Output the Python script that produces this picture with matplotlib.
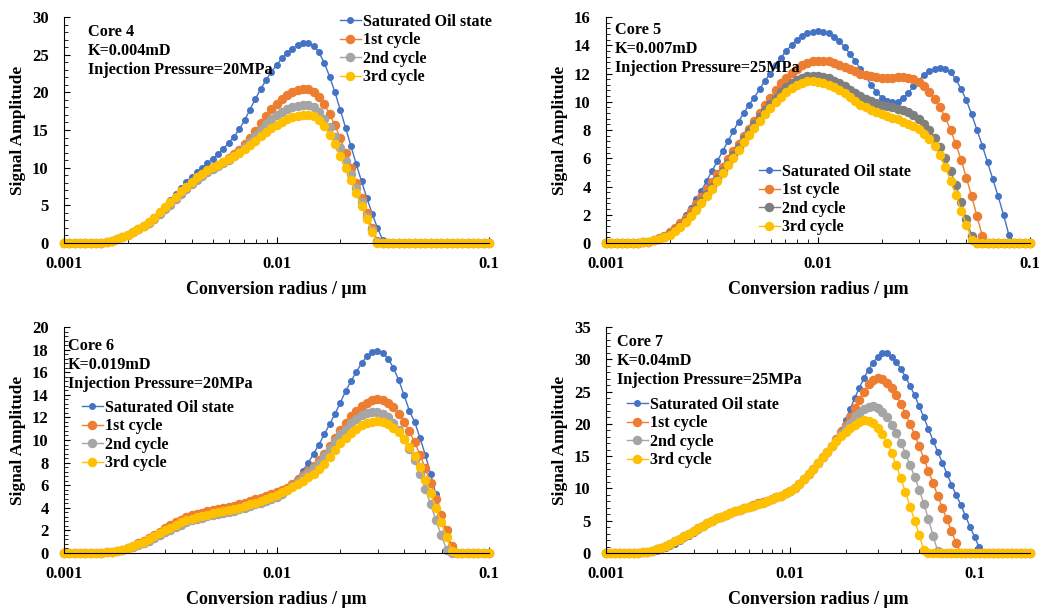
import numpy as np
import matplotlib
matplotlib.use('Agg')
import matplotlib.pyplot as plt
from matplotlib.ticker import MultipleLocator, LogLocator, NullFormatter

plt.rcParams.update({'font.family': 'Liberation Serif',
                     'font.weight': 'bold',
                     'font.size': 12,
                     'axes.labelweight': 'bold',
                     'axes.linewidth': 0.8})

W, H = 1041, 609

# conversion radius grid (um), 40 points per decade from 0.001
radius = np.logspace(-3, -1, 81)
radius7 = np.logspace(-3, -3 + 92 / 40.0, 93)

labels = ['Saturated Oil state', '1st cycle', '2nd cycle', '3rd cycle']

# ---- Core 4 ----
core4_sat = [0, 0, 0, 0, 0, 0, 0, 0.05, 0.15, 0.3,
             0.5, 0.8, 1.1, 1.5, 1.95, 2.4, 2.9, 3.5, 4.2, 4.95,
             5.7, 6.5, 7.3, 8.1, 8.8, 9.4, 10.0, 10.6, 11.2, 11.8,
             12.5, 13.3, 14.1, 15.1, 16.3, 17.7, 19.1, 20.4, 21.6, 22.7,
             23.6, 24.5, 25.2, 25.8, 26.3, 26.6, 26.6, 26.2, 25.3, 23.9,
             22.1, 20.0, 17.7, 15.3, 12.9, 10.5, 8.2, 6.0, 3.9, 2.0,
             0.4, 0, 0, 0, 0, 0, 0, 0, 0, 0,
             0, 0, 0, 0, 0, 0, 0, 0, 0, 0,
             0]
core4_c1 = [0, 0, 0, 0, 0, 0, 0, 0.05, 0.15, 0.3,
            0.5, 0.75, 1.05, 1.4, 1.8, 2.2, 2.7, 3.3, 3.95, 4.6,
            5.3, 6.0, 6.7, 7.35, 8.0, 8.6, 9.1, 9.6, 10.0, 10.4,
            10.8, 11.3, 11.8, 12.4, 13.1, 13.9, 14.9, 15.9, 16.9, 17.8,
            18.5, 19.1, 19.6, 20.0, 20.3, 20.4, 20.4, 20.1, 19.4, 18.4,
            17.1, 15.6, 13.9, 12.0, 10.0, 8.0, 6.0, 4.0, 2.0, 0.3,
            0, 0, 0, 0, 0, 0, 0, 0, 0, 0,
            0, 0, 0, 0, 0, 0, 0, 0, 0, 0,
            0]
core4_c2 = [0, 0, 0, 0, 0, 0, 0, 0.05, 0.15, 0.3,
            0.5, 0.75, 1.05, 1.4, 1.8, 2.2, 2.7, 3.25, 3.85, 4.45,
            5.1, 5.8, 6.5, 7.15, 7.8, 8.4, 8.9, 9.4, 9.8, 10.2,
            10.6, 11.0, 11.5, 12.1, 12.7, 13.4, 14.2, 15.0, 15.8, 16.5,
            17.0, 17.4, 17.8, 18.0, 18.2, 18.3, 18.3, 18.0, 17.4, 16.5,
            15.4, 14.1, 12.6, 10.9, 9.1, 7.3, 5.4, 3.5, 1.7, 0.1,
            0, 0, 0, 0, 0, 0, 0, 0, 0, 0,
            0, 0, 0, 0, 0, 0, 0, 0, 0, 0,
            0]
core4_c3 = [0, 0, 0, 0, 0, 0, 0, 0.05, 0.15, 0.3,
            0.5, 0.75, 1.05, 1.4, 1.8, 2.25, 2.75, 3.35, 4.05, 4.75,
            5.45, 6.15, 6.85, 7.5, 8.15, 8.7, 9.2, 9.65, 10.05, 10.4,
            10.75, 11.1, 11.5, 11.95, 12.45, 13.0, 13.6, 14.2, 14.8, 15.3,
            15.7, 16.1, 16.4, 16.7, 16.9, 17.0, 17.0, 16.8, 16.3, 15.5,
            14.4, 13.1, 11.6, 10.0, 8.3, 6.6, 4.9, 3.2, 1.5, 0,
            0, 0, 0, 0, 0, 0, 0, 0, 0, 0,
            0, 0, 0, 0, 0, 0, 0, 0, 0, 0,
            0]

# ---- Core 5 ----
core5_sat = [0, 0, 0, 0, 0, 0, 0, 0.05, 0.1, 0.2,
             0.35, 0.55, 0.8, 1.1, 1.5, 2.0, 2.5, 3.1, 3.7, 4.4,
             5.1, 5.8, 6.5, 7.2, 7.9, 8.6, 9.2, 9.8, 10.3, 10.9,
             11.5, 12.0, 12.6, 13.1, 13.6, 14.0, 14.4, 14.65, 14.85, 14.95,
             15.0, 14.95, 14.85, 14.6, 14.3, 13.9, 13.4, 12.9, 12.3, 11.8,
             11.2, 10.7, 10.3, 10.05, 9.95, 10.0, 10.25, 10.6, 11.1, 11.5,
             11.9, 12.15, 12.3, 12.4, 12.35, 12.1, 11.6, 10.9, 10.1, 9.1,
             8.0, 6.9, 5.7, 4.5, 3.3, 2.0, 0.6, 0, 0, 0,
             0]
core5_c1 = [0, 0, 0, 0, 0, 0, 0, 0.05, 0.1, 0.2,
            0.35, 0.5, 0.75, 1.05, 1.4, 1.8, 2.25, 2.75, 3.25, 3.8,
            4.3, 4.85, 5.4, 5.95, 6.5, 7.0, 7.6, 8.1, 8.65, 9.2,
            9.75, 10.3, 10.8, 11.3, 11.7, 12.05, 12.35, 12.6, 12.75, 12.85,
            12.9, 12.9, 12.85, 12.75, 12.6, 12.45, 12.3, 12.15, 12.0, 11.9,
            11.8, 11.75, 11.7, 11.7, 11.7, 11.75, 11.75, 11.7, 11.6, 11.4,
            11.1, 10.7, 10.2, 9.6, 8.9, 8.0, 7.0, 5.9, 4.6, 3.3,
            1.9, 0.5, 0, 0, 0, 0, 0, 0, 0, 0,
            0]
core5_c2 = [0, 0, 0, 0, 0, 0, 0, 0.05, 0.1, 0.2,
            0.3, 0.45, 0.65, 0.9, 1.2, 1.55, 2.0, 2.45, 2.95, 3.45,
            4.0, 4.55, 5.1, 5.65, 6.2, 6.8, 7.35, 7.9, 8.4, 8.9,
            9.4, 9.85, 10.3, 10.7, 11.05, 11.35, 11.55, 11.7, 11.8, 11.8,
            11.8, 11.75, 11.65, 11.5, 11.3, 11.1, 10.85, 10.6, 10.4, 10.2,
            10.05, 9.9, 9.8, 9.7, 9.6, 9.5, 9.4, 9.25, 9.05, 8.8,
            8.45, 8.0, 7.45, 6.8, 6.0, 5.1, 4.1, 2.9, 1.7, 0.5,
            0, 0, 0, 0, 0, 0, 0, 0, 0, 0,
            0]
core5_c3 = [0, 0, 0, 0, 0, 0, 0, 0.05, 0.1, 0.2,
            0.3, 0.45, 0.6, 0.85, 1.15, 1.5, 1.9, 2.35, 2.8, 3.3,
            3.85, 4.4, 4.95, 5.5, 6.05, 6.6, 7.15, 7.65, 8.15, 8.65,
            9.1, 9.55, 9.95, 10.35, 10.7, 11.0, 11.2, 11.35, 11.45, 11.45,
            11.4, 11.35, 11.2, 11.05, 10.85, 10.6, 10.35, 10.05, 9.8, 9.6,
            9.4, 9.25, 9.1, 9.0, 8.85, 8.75, 8.6, 8.45, 8.25, 8.05,
            7.75, 7.35, 6.85, 6.2, 5.4, 4.4, 3.4, 2.3, 1.3, 0.2,
            0, 0, 0, 0, 0, 0, 0, 0, 0, 0,
            0]

# ---- Core 6 ----
core6_sat = [0, 0, 0, 0, 0, 0, 0, 0.02, 0.05, 0.1,
             0.18, 0.27, 0.4, 0.52, 0.68, 0.85, 1.07, 1.3, 1.55, 1.8,
             2.05, 2.3, 2.5, 2.7, 2.87, 3.02, 3.13, 3.24, 3.35, 3.45,
             3.55, 3.65, 3.75, 3.85, 4.0, 4.15, 4.3, 4.45, 4.62, 4.85,
             5.1, 5.4, 5.75, 6.1, 6.6, 7.3, 8.0, 8.8, 9.6, 10.5,
             11.4, 12.3, 13.3, 14.3, 15.2, 16.0, 16.8, 17.4, 17.8, 17.9,
             17.7, 17.2, 16.4, 15.3, 14.0, 12.6, 11.6, 10.2, 8.7, 7.0,
             5.2, 3.4, 1.7, 0.2, 0, 0, 0, 0, 0, 0,
             0]
core6_c1 = [0, 0, 0, 0, 0, 0, 0, 0.02, 0.05, 0.1,
            0.2, 0.3, 0.45, 0.62, 0.85, 1.08, 1.35, 1.62, 1.9, 2.17,
            2.45, 2.72, 2.95, 3.15, 3.32, 3.47, 3.58, 3.69, 3.8, 3.9,
            4.0, 4.1, 4.2, 4.3, 4.45, 4.6, 4.75, 4.9, 5.05, 5.2,
            5.4, 5.55, 5.75, 6.1, 6.5, 6.9, 7.3, 7.7, 8.2, 8.8,
            9.5, 10.2, 10.9, 11.5, 12.1, 12.6, 13.0, 13.3, 13.5, 13.6,
            13.5, 13.3, 12.9, 12.3, 11.6, 10.8, 9.8, 8.7, 7.5, 6.2,
            4.8, 3.4, 2.0, 0.6, 0, 0, 0, 0, 0, 0,
            0]
core6_c2 = [0, 0, 0, 0, 0, 0, 0, 0.02, 0.05, 0.1,
            0.18, 0.27, 0.4, 0.53, 0.7, 0.87, 1.1, 1.33, 1.57, 1.82,
            2.07, 2.32, 2.52, 2.72, 2.88, 3.03, 3.14, 3.25, 3.35, 3.45,
            3.55, 3.65, 3.75, 3.85, 4.0, 4.15, 4.3, 4.45, 4.6, 4.8,
            5.0, 5.25, 5.6, 5.95, 6.3, 6.7, 7.1, 7.5, 8.0, 8.6,
            9.2, 9.9, 10.5, 11.0, 11.5, 11.9, 12.2, 12.4, 12.5, 12.45,
            12.3, 12.0, 11.5, 10.9, 10.1, 9.2, 8.2, 7.0, 5.7, 4.3,
            2.9, 1.6, 0.3, 0, 0, 0, 0, 0, 0, 0,
            0]
core6_c3 = [0, 0, 0, 0, 0, 0, 0, 0.02, 0.05, 0.1,
            0.2, 0.3, 0.45, 0.6, 0.8, 1.0, 1.25, 1.5, 1.75, 2.0,
            2.25, 2.5, 2.7, 2.9, 3.05, 3.2, 3.3, 3.4, 3.5, 3.6,
            3.7, 3.8, 3.9, 4.0, 4.15, 4.3, 4.45, 4.6, 4.75, 4.95,
            5.15, 5.4, 5.6, 5.85, 6.1, 6.4, 6.7, 7.0, 7.4, 7.9,
            8.5, 9.1, 9.7, 10.2, 10.6, 11.0, 11.3, 11.5, 11.6, 11.65,
            11.6, 11.4, 11.1, 10.7, 10.1, 9.4, 8.6, 7.6, 6.5, 5.3,
            4.0, 2.7, 1.4, 0.2, 0, 0, 0, 0, 0, 0,
            0]

# ---- Core 7 (axis runs to 0.2) ----
core7_sat = [0, 0, 0, 0, 0, 0, 0, 0.03, 0.07, 0.13,
             0.22, 0.35, 0.55, 0.8, 1.1, 1.45, 1.85, 2.25, 2.7, 3.15,
             3.6, 4.05, 4.5, 4.9, 5.3, 5.65, 5.95, 6.2, 6.45, 6.7,
             6.9, 7.1, 7.3, 7.55, 7.8, 8.05, 8.3, 8.6, 8.9, 9.2,
             9.55, 10.05, 10.65, 11.35, 12.15, 12.95, 13.85, 14.75, 15.7, 16.7,
             17.8, 19.1, 20.6, 22.3, 24.0, 25.6, 27.1, 28.4, 29.5, 30.4,
             31.0, 30.9, 30.4, 29.6, 28.5, 27.3, 25.9, 24.4, 22.7, 21.0,
             19.2, 17.4, 15.7, 14.0, 12.3, 10.6, 9.0, 7.5, 5.8, 4.1,
             2.5, 0.9, 0, 0, 0, 0, 0, 0, 0, 0,
             0, 0, 0]
core7_c1 = [0, 0, 0, 0, 0, 0, 0, 0.05, 0.1, 0.2,
            0.35, 0.55, 0.8, 1.1, 1.45, 1.8, 2.2, 2.6, 3.0, 3.45,
            3.85, 4.25, 4.65, 5.0, 5.35, 5.65, 5.95, 6.2, 6.45, 6.7,
            6.95, 7.2, 7.45, 7.7, 7.9, 8.1, 8.35, 8.6, 8.9, 9.25,
            9.6, 10.1, 10.7, 11.4, 12.2, 13.0, 13.9, 14.8, 15.7, 16.6,
            17.6, 18.7, 19.8, 21.1, 22.4, 23.7, 25.0, 26.1, 26.8, 27.1,
            26.9, 26.3, 25.5, 24.4, 23.1, 21.6, 20.0, 18.3, 16.5, 14.6,
            12.7, 10.8, 8.9, 7.0, 5.2, 3.4, 1.6, 0, 0, 0,
            0, 0, 0, 0, 0, 0, 0, 0, 0, 0,
            0, 0, 0]
core7_c2 = [0, 0, 0, 0, 0, 0, 0, 0.05, 0.1, 0.2,
            0.35, 0.55, 0.8, 1.1, 1.45, 1.8, 2.2, 2.6, 3.0, 3.45,
            3.85, 4.25, 4.65, 5.0, 5.35, 5.65, 5.95, 6.2, 6.45, 6.7,
            6.9, 7.1, 7.3, 7.55, 7.8, 8.05, 8.3, 8.6, 8.9, 9.25,
            9.6, 10.1, 10.7, 11.4, 12.2, 13.0, 13.9, 14.8, 15.7, 16.6,
            17.5, 18.4, 19.3, 20.2, 21.0, 21.7, 22.3, 22.65, 22.7, 22.4,
            21.8, 21.0, 19.9, 18.6, 17.1, 15.4, 13.6, 11.8, 9.8, 7.6,
            5.2, 2.7, 0.3, 0, 0, 0, 0, 0, 0, 0,
            0, 0, 0, 0, 0, 0, 0, 0, 0, 0,
            0, 0, 0]
core7_c3 = [0, 0, 0, 0, 0, 0, 0, 0.05, 0.1, 0.2,
            0.35, 0.55, 0.8, 1.1, 1.45, 1.8, 2.2, 2.6, 3.0, 3.45,
            3.85, 4.25, 4.65, 5.0, 5.35, 5.65, 5.95, 6.2, 6.45, 6.7,
            6.9, 7.1, 7.3, 7.55, 7.8, 8.05, 8.3, 8.6, 8.9, 9.25,
            9.6, 10.1, 10.7, 11.4, 12.2, 13.0, 13.9, 14.8, 15.7, 16.5,
            17.3, 18.1, 18.8, 19.4, 19.9, 20.3, 20.6, 20.5, 20.1, 19.4,
            18.4, 17.1, 15.5, 13.6, 11.6, 9.4, 7.2, 5.0, 2.8, 0.4,
            0, 0, 0, 0, 0, 0, 0, 0, 0, 0,
            0, 0, 0, 0, 0, 0, 0, 0, 0, 0,
            0, 0, 0]

blue, orange, yellow = '#4472C4', '#ED7D31', '#FFC000'
gray_light, gray_dark = '#A5A5A5', '#7F7F7F'


def fx(px):
    return px / W


def fy(py):
    return 1 - py / H


def panel(box, x, series, gray, ymax, ymaj, ymin, xmax, note, note_xy, leg_xy):
    l, t, r, b = box
    ax = fig.add_axes([fx(l), fy(b), (r - l) / W, (b - t) / H])
    colors = [blue, orange, gray, yellow]
    sizes = [4.0, 5.8, 5.8, 5.8]
    for y, c, ms, lab in zip(series, colors, sizes, labels):
        ax.plot(x, y, '-o', color=c, lw=1, ms=ms, mec=c, label=lab, clip_on=False)
    ax.set_xscale('log')
    ax.set_xlim(0.001, xmax)
    ax.set_ylim(0, ymax)
    ax.set_xticks([0.001, 0.01, 0.1])
    ax.set_xticklabels(['0.001', '0.01', '0.1'])
    ax.xaxis.set_minor_locator(LogLocator(base=10, subs=np.arange(2, 10)))
    ax.xaxis.set_minor_formatter(NullFormatter())
    ax.yaxis.set_major_locator(MultipleLocator(ymaj))
    ax.yaxis.set_minor_locator(MultipleLocator(ymin))
    ax.spines['top'].set_visible(False)
    ax.spines['right'].set_visible(False)
    ax.tick_params(axis='x', which='major', direction='in', length=4, pad=9, labelsize=12)
    ax.tick_params(axis='x', which='minor', direction='in', length=3)
    ax.tick_params(axis='y', which='major', direction='in', length=4, pad=11, labelsize=12)
    ax.tick_params(axis='y', which='minor', direction='in', length=3)
    ax.set_xlabel('Conversion radius / \u03bcm', fontsize=13)
    ax.set_ylabel('Signal Amplitude', fontsize=12.5)
    ax.xaxis.set_label_coords(0.5, -0.204)
    ax.xaxis.label.set_va('center')
    ax.yaxis.set_label_coords(-0.108, 0.5)
    ax.yaxis.label.set_va('center')
    fig.text(fx(note_xy[0]), fy(note_xy[1]), note, fontsize=11.7, va='center',
             ha='left', linespacing=1.28)
    ax.legend(loc='center left', bbox_to_anchor=(fx(leg_xy[0]), fy(leg_xy[1])),
              bbox_transform=fig.transFigure, frameon=False, fontsize=11.5,
              borderpad=0, borderaxespad=0, handlelength=1.3, handletextpad=0.15,
              labelspacing=0.16)
    return ax


fig = plt.figure(figsize=(W / 100, H / 100), dpi=100)

panel((64, 17, 489, 243), radius, [core4_sat, core4_c1, core4_c2, core4_c3],
      gray_light, 30, 5, 1, 0.1,
      'Core 4\nK=0.004mD\nInjection Pressure=20MPa', (88, 51), (340, 49.5))
panel((606, 17, 1030, 243), radius, [core5_sat, core5_c1, core5_c2, core5_c3],
      gray_dark, 16, 2, 0.4, 0.1,
      'Core 5\nK=0.007mD\nInjection Pressure=25MPa', (615, 49), (759, 199.5))
panel((64, 327, 489, 553), radius, [core6_sat, core6_c1, core6_c2, core6_c3],
      gray_light, 20, 2, 0.4, 0.1,
      'Core 6\nK=0.019mD\nInjection Pressure=20MPa', (68, 365), (82, 435.5))
panel((606, 327, 1030, 553), radius7, [core7_sat, core7_c1, core7_c2, core7_c3],
      gray_light, 35, 5, 1, 0.2,
      'Core 7\nK=0.04mD\nInjection Pressure=25MPa', (617, 361), (627, 432.5))

fig.savefig('out.png', dpi=100)
